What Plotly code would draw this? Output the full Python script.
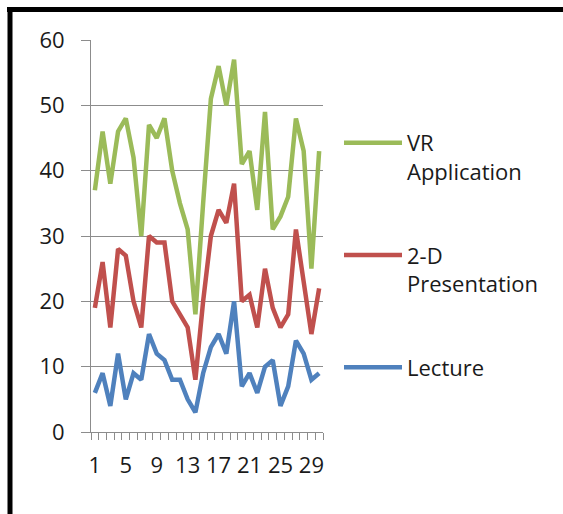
import plotly.graph_objects as go

categories = list(range(1, 31))
vr_application = [37, 46, 38, 46, 48, 42, 30, 47, 45, 48, 40, 35, 31, 18, 35,
                  51, 56, 50, 57, 41, 43, 34, 49, 31, 33, 36, 48, 43, 25, 43]
presentation_2d = [19, 26, 16, 28, 27, 20, 16, 30, 29, 29, 20, 18, 16, 8, 20,
                   30, 34, 32, 38, 20, 21, 16, 25, 19, 16, 18, 31, 23, 15, 22]
lecture = [6, 9, 4, 12, 5, 9, 8, 15, 12, 11, 8, 8, 5, 3, 9,
           13, 15, 12, 20, 7, 9, 6, 10, 11, 4, 7, 14, 12, 8, 9]
x_tick_labels = [1, 5, 9, 13, 17, 21, 25, 29]
y_ticks = [0, 10, 20, 30, 40, 50, 60]

series = [
    ("VR<br>Application", vr_application, "#9BBB59", "g1"),
    ("2-D<br>Presentation", presentation_2d, "#C0504D", "g2"),
    ("Lecture", lecture, "#4F81BD", "g3"),
]

FONT = "Open Sans"
GRID = "#8C8C8C"

fig = go.Figure()
for name, vals, color, grp in series:
    fig.add_trace(go.Scatter(
        x=categories, y=vals, mode="lines", name=name, legendgroup=grp,
        line=dict(color=color, width=4.5),
    ))

W, H = 563, 514
L, R, T, B = 91, 240, 40, 82
pw, ph = W - L - R, H - T - B

def px_x(px):
    return (px - L) / pw

def px_y(py):
    return (H - B - py) / ph

fig.update_layout(
    width=W, height=H,
    margin=dict(l=L, r=R, t=T, b=B, autoexpand=False),
    paper_bgcolor="white", plot_bgcolor="white",
    font=dict(family=FONT, size=22, color="#1A1A1A"),
    showlegend=True,
    legend=dict(
        x=px_x(339), y=px_y(122), xanchor="left", yanchor="top",
        traceorder="grouped", tracegroupgap=52, itemwidth=58,
        valign="top", font=dict(family=FONT, size=22, color="#1A1A1A"),
        bgcolor="rgba(0,0,0,0)",
    ),
    xaxis=dict(
        range=[0.5, 30.5], tickmode="array", tickvals=x_tick_labels,
        ticktext=[str(v) for v in x_tick_labels], ticks="",
        showgrid=False, zeroline=False, showline=True, linecolor=GRID, linewidth=1,
        ticklabelstandoff=14,
        tickfont=dict(family=FONT, size=22, color="#1A1A1A"),
        minor=dict(tickmode="linear", tick0=0.5, dtick=1, ticks="outside",
                   ticklen=7, tickcolor=GRID, tickwidth=1, showgrid=False),
    ),
    yaxis=dict(
        range=[0, 60], tickmode="array", tickvals=y_ticks,
        ticks="outside", ticklen=9, tickcolor=GRID,
        showgrid=True, gridcolor=GRID, gridwidth=1,
        zeroline=False, showline=True, linecolor=GRID, linewidth=1,
        ticklabelstandoff=12,
        tickfont=dict(family=FONT, size=22, color="#1A1A1A"),
    ),
    shapes=[
        dict(type="rect", xref="paper", yref="paper",
             x0=px_x(7), x1=px_x(575), y0=px_y(12), y1=px_y(7),
             fillcolor="black", line=dict(width=0), layer="above"),
        dict(type="rect", xref="paper", yref="paper",
             x0=px_x(7.5), x1=px_x(12.5), y0=px_y(525), y1=px_y(7),
             fillcolor="black", line=dict(width=0), layer="above"),
    ],
)

fig.write_html("out.html", config={"displayModeBar": False},
               post_script="document.body.style.margin='0';")
